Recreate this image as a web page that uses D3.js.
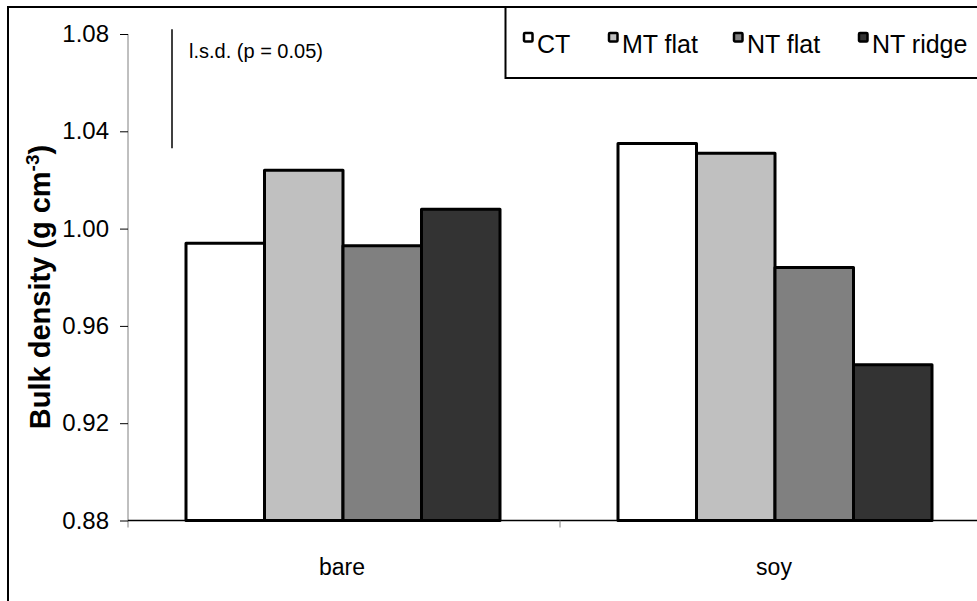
<!DOCTYPE html>
<html>
<head>
<meta charset="utf-8">
<script src="https://cdn.jsdelivr.net/npm/d3@7"></script>
<style>
  body { margin: 0; background: #fff; }
  text { font-family: "Liberation Sans", Arial, sans-serif; }
</style>
</head>
<body>
<svg id="chart" width="977" height="601"></svg>
<script>
var categories = ["bare", "soy"];
var series = ["CT", "MT flat", "NT flat", "NT ridge"];
var bare = [0.994, 1.024, 0.993, 1.008];
var soy = [1.035, 1.031, 0.984, 0.944];
var yTicks = [0.88, 0.92, 0.96, 1.00, 1.04, 1.08];
var fills = ["#ffffff", "#c0c0c0", "#808080", "#333333"];
var lsd = 0.049;

var values = { bare: bare, soy: soy };

var margin = {top: 34, left: 128},
    plotRight = 992,
    plotBottom = 520.5;

var svg = d3.select("#chart");

// outer frame (runs off the right and bottom edge)
svg.append("rect")
    .attr("x", 8)
    .attr("y", 7)
    .attr("width", 1100)
    .attr("height", 700)
    .attr("fill", "none")
    .attr("stroke", "#000")
    .attr("stroke-width", 2);

var x0 = d3.scaleBand()
    .domain(categories)
    .range([margin.left, plotRight]);

var x1 = d3.scaleBand()
    .domain(series)
    .range([58, x0.bandwidth() - 60]);

var y = d3.scaleLinear()
    .domain([0.88, 1.08])
    .range([plotBottom, margin.top]);

var color = d3.scaleOrdinal()
    .domain(series)
    .range(fills);

// y axis
var yAxis = svg.append("g")
    .attr("transform", "translate(" + margin.left + ",0)")
    .call(d3.axisLeft(y)
      .tickValues(yTicks)
      .tickFormat(d3.format(".2f"))
      .tickSize(8)
      .tickSizeOuter(0)
      .tickPadding(11));
yAxis.select(".domain")
    .attr("stroke", "#808080")
    .attr("d", "M0," + y(1.08) + "V" + (plotBottom + 7));
yAxis.selectAll(".tick line").attr("stroke", "#000");
yAxis.selectAll(".tick text")
    .attr("fill", "#000")
    .style("font-size", "24px");

// bars
var groups = svg.selectAll(".group")
    .data(categories)
  .enter().append("g")
    .attr("class", "group")
    .attr("transform", function(d) { return "translate(" + x0(d) + ",0)"; });

groups.selectAll("rect")
    .data(function(c) { return series.map(function(s, i) { return {s: s, v: values[c][i]}; }); })
  .enter().append("rect")
    .attr("x", function(d) { return x1(d.s); })
    .attr("y", function(d) { return y(d.v); })
    .attr("width", x1.bandwidth())
    .attr("height", function(d) { return y(0.88) - y(d.v); })
    .attr("fill", function(d) { return color(d.s); })
    .attr("stroke", "#000")
    .attr("stroke-width", 3)
    .attr("stroke-linejoin", "round");

// x axis
svg.append("line")
    .attr("x1", margin.left)
    .attr("x2", plotRight)
    .attr("y1", plotBottom)
    .attr("y2", plotBottom)
    .attr("stroke", "#000")
    .attr("stroke-width", 1.5);

var bounds = categories.map(function(c) { return x0(c); }).concat([plotRight]);
svg.selectAll(".xtick")
    .data(bounds.slice(1))
  .enter().append("line")
    .attr("class", "xtick")
    .attr("x1", function(d) { return d; })
    .attr("x2", function(d) { return d; })
    .attr("y1", plotBottom)
    .attr("y2", plotBottom + 7)
    .attr("stroke", "#808080");

svg.selectAll(".xlabel")
    .data(categories)
  .enter().append("text")
    .attr("class", "xlabel")
    .attr("x", function(d) { return x0(d) + x0.bandwidth() / 2 - 2; })
    .attr("y", 575)
    .attr("text-anchor", "middle")
    .style("font-size", "23px")
    .text(function(d) { return d; });

// y title
var title = svg.append("text")
    .attr("transform", "translate(50," + 287 + ") rotate(-90)")
    .attr("text-anchor", "middle")
    .style("font-size", "29px")
    .style("font-weight", "bold");
title.append("tspan").text("Bulk density (g cm");
title.append("tspan").attr("dy", -11).style("font-size", "19px").text("-3");
title.append("tspan").attr("dy", 11).text(")");

// l.s.d. bar
svg.append("line")
    .attr("x1", 172)
    .attr("x2", 172)
    .attr("y1", y(1.082))
    .attr("y2", y(1.082 - lsd))
    .attr("stroke", "#000")
    .attr("stroke-width", 1.5);

svg.append("text")
    .attr("x", 189)
    .attr("y", 58)
    .style("font-size", "20px")
    .text("l.s.d. (p = 0.05)");

// legend
var legend = svg.append("g");
legend.append("rect")
    .attr("x", 505.5)
    .attr("y", 7)
    .attr("width", 600)
    .attr("height", 71)
    .attr("fill", "#fff")
    .attr("stroke", "#000")
    .attr("stroke-width", 2);

var legendX = [523, 608, 733, 858];
var item = legend.selectAll(".item")
    .data(series)
  .enter().append("g")
    .attr("class", "item")
    .attr("transform", function(d, i) { return "translate(" + legendX[i] + ",0)"; });

item.append("rect")
    .attr("x", 1)
    .attr("y", 33)
    .attr("width", 8.5)
    .attr("height", 8.5)
    .attr("fill", function(d) { return color(d); })
    .attr("stroke", "#000")
    .attr("stroke-width", 2.5)
    .attr("rx", 1);

item.append("text")
    .attr("x", 14)
    .attr("y", 53)
    .style("font-size", "25px")
    .text(function(d) { return d; });
</script>
</body>
</html>
